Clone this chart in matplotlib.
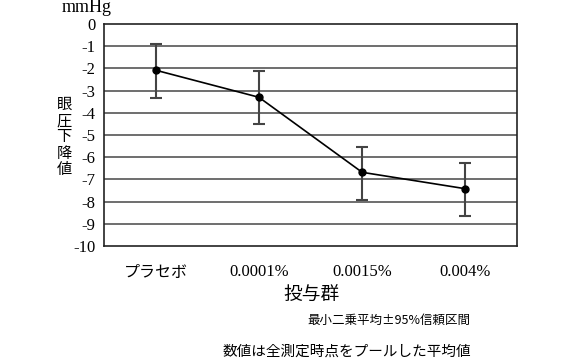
import matplotlib
matplotlib.use("Agg")
import matplotlib.pyplot as plt
import numpy as np

categories = ["プラセボ", "0.0001%", "0.0015%", "0.004%"]
means = [-2.08, -3.30, -6.68, -7.42]
upper = [-0.89, -2.10, -5.54, -6.26]
lower = [-3.32, -4.49, -7.93, -8.65]
yticks = list(range(0, -11, -1))
ylabel = "眼圧下降値"

W, H = 574, 361
fig = plt.figure(figsize=(W / 100, H / 100), dpi=100)
ax = fig.add_axes([104 / W, 1 - 246 / H, 413 / W, 222 / H])

serif = ["Liberation Serif", "Noto Sans CJK JP"]
cjk = ["Noto Sans CJK JP", "Liberation Serif"]

x = np.arange(len(categories))
m = np.array(means)
err = np.vstack([m - np.array(lower), np.array(upper) - m])

for yv in yticks[1:-1]:
    ax.axhline(yv, color="#555555", lw=1.2, zorder=1)

ax.errorbar(x, m, yerr=err, fmt="none", ecolor="#444444", elinewidth=1.5,
            capsize=4, capthick=1.5, zorder=2)
ax.plot(x, m, color="black", lw=1.2, marker="o", ms=5, zorder=3)

ax.set_xlim(-0.5, len(categories) - 0.5)
ax.set_ylim(-10, 0)
ax.set_yticks(yticks)
ax.set_yticklabels([str(v) for v in yticks], family=serif, fontsize=12)
ax.set_xticks(x)
ax.set_xticklabels(categories, family=cjk, fontsize=11.5)
ax.tick_params(axis="both", length=0)
ax.tick_params(axis="x", pad=13)
ax.tick_params(axis="y", pad=6)
for lab in ax.get_xticklabels()[1:]:
    lab.set_family(serif)
    lab.set_fontsize(12)
for s in ax.spines.values():
    s.set_color("#222222")
    s.set_linewidth(1.2)

def ft(px, py, s, **kw):
    fig.text(px / W, 1 - py / H, s, **kw)

ft(87, 8, "mmHg", family=serif, fontsize=13, ha="center", va="center")
for i, ch in enumerate(ylabel):
    ft(64, 104.5 + i * 16.25, ch, family=cjk, fontsize=11, ha="center",
       va="center")
ft(311, 295, "投与群", family=cjk, fontsize=13.5, ha="center", va="center")
ft(470, 320, "最小二乗平均±95%信頼区間", family=cjk, fontsize=9,
   ha="right", va="center")
ft(471, 352, "数値は全測定時点をプールした平均値", family=cjk, fontsize=10.5,
   ha="right", va="center")

fig.savefig("out.png", dpi=100)
